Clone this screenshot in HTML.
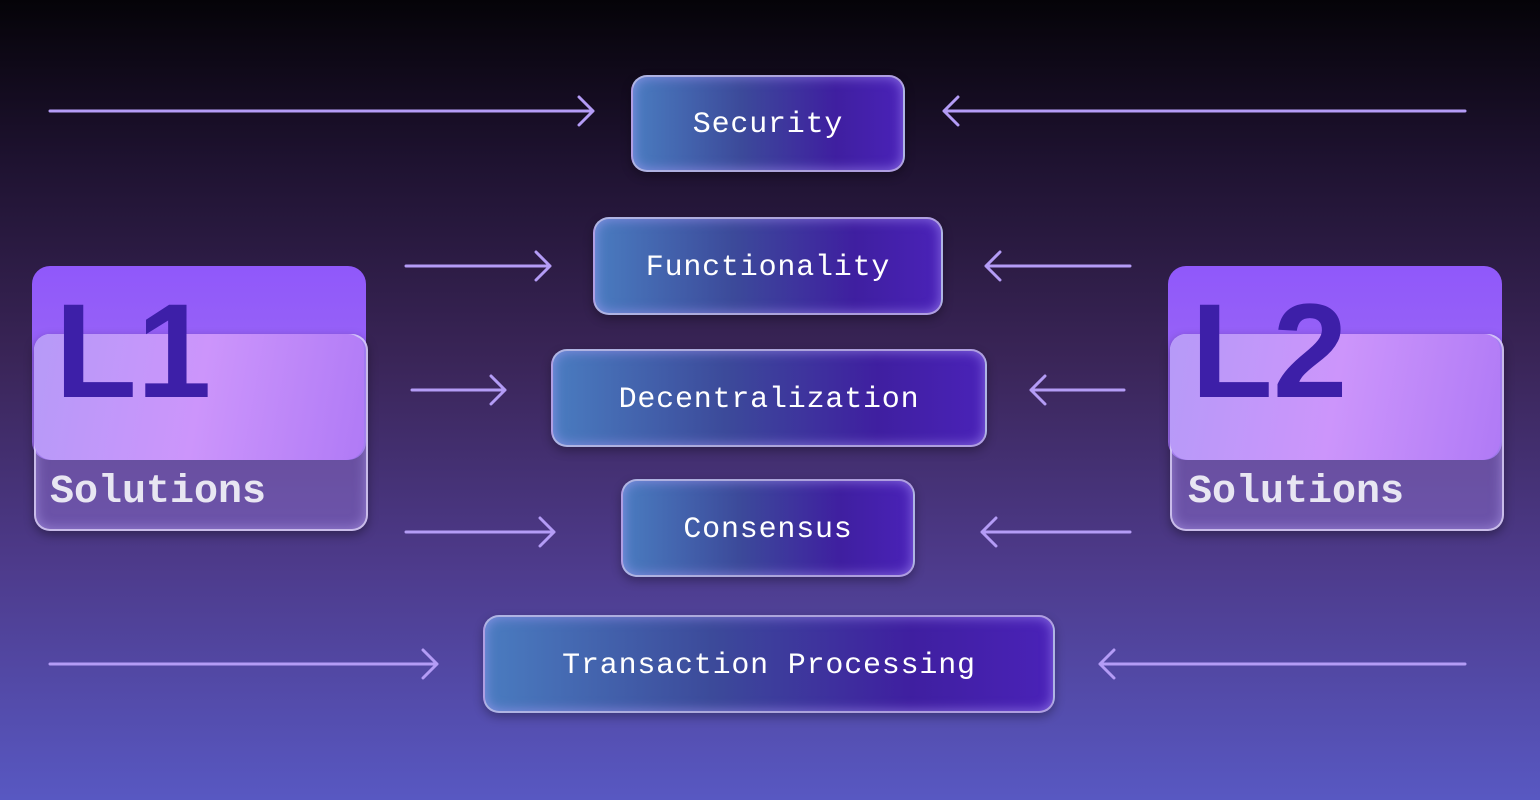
<!DOCTYPE html>
<html><head><style>
html,body{margin:0;padding:0}
body{width:1540px;height:800px;overflow:hidden;position:relative;background:linear-gradient(180deg,#050308 0%,#1e1230 20%,#3a2558 45%,#4d3a8a 70%,#5858c2 100%);font-family:"Liberation Mono",monospace}
.b{position:absolute;box-sizing:border-box;border:2px solid rgba(210,200,240,.75);border-radius:16px;background:linear-gradient(90deg,#4a7cc0 0%,#3c4a9a 40%,#3f1fa0 75%,#4a22b8 100%);box-shadow:inset 0 0 12px rgba(180,160,255,.6),0 4px 10px rgba(0,0,0,.3);color:#fff;font-size:30px;letter-spacing:0.8px;display:flex;align-items:center;justify-content:center;padding-top:3px}
.back{position:absolute;width:334px;height:194px;border-radius:18px;background:linear-gradient(180deg,#9058fa,#a070f4)}
.front{position:absolute;width:334px;height:197px;box-sizing:border-box;border:2px solid rgba(225,215,250,.8);border-radius:16px;background:rgba(150,120,220,.45);box-shadow:inset 0 0 12px rgba(200,180,255,.5),0 4px 10px rgba(0,0,0,.35)}
.glow{position:absolute;width:330px;height:126px;border-radius:16px 16px 18px 18px;background:linear-gradient(100deg,#b69af8 0%,#cc95fb 50%,#b07af6 100%)}
.big{position:absolute;font-family:"Liberation Sans",sans-serif;font-weight:bold;font-size:134px;color:#3d1fa8;line-height:1}
.sol{position:absolute;font-size:40px;font-weight:bold;color:#e8e6f2}
</style></head><body>
<div class="back" style="left:32px;top:266px"></div>
<div class="front" style="left:34px;top:334px"></div>
<div class="glow" style="left:34px;top:334px"></div>
<div class="big" style="left:55px;top:285px">L1</div>
<div class="sol" style="left:50px;top:470px">Solutions</div>

<div class="back" style="left:1168px;top:266px"></div>
<div class="front" style="left:1170px;top:334px"></div>
<div class="glow" style="left:1170px;top:334px"></div>
<div class="big" style="left:1191px;top:285px">L2</div>
<div class="sol" style="left:1188px;top:470px">Solutions</div>

<div class="b" style="left:631px;top:75px;width:274px;height:97px">Security</div>
<div class="b" style="left:593px;top:217px;width:350px;height:98px">Functionality</div>
<div class="b" style="left:551px;top:349px;width:436px;height:98px">Decentralization</div>
<div class="b" style="left:621px;top:479px;width:294px;height:98px">Consensus</div>
<div class="b" style="left:483px;top:615px;width:572px;height:98px">Transaction Processing</div>

<svg width="1540" height="800" style="position:absolute;left:0;top:0" fill="none" stroke="#b49cf6" stroke-width="3" stroke-linecap="round" stroke-linejoin="round">
<path d="M50 111H593M579 97L593 111L579 125"/>
<path d="M1465 111H944M958 97L944 111L958 125"/>
<path d="M406 266H550M536 252L550 266L536 280"/>
<path d="M1130 266H986M1000 252L986 266L1000 280"/>
<path d="M412 390H505M491 376L505 390L491 404"/>
<path d="M1124 390H1031M1045 376L1031 390L1045 404"/>
<path d="M406 532H554M540 518L554 532L540 546"/>
<path d="M1130 532H982M996 518L982 532L996 546"/>
<path d="M50 664H437M423 650L437 664L423 678"/>
<path d="M1465 664H1100M1114 650L1100 664L1114 678"/>
</svg>
</body></html>
